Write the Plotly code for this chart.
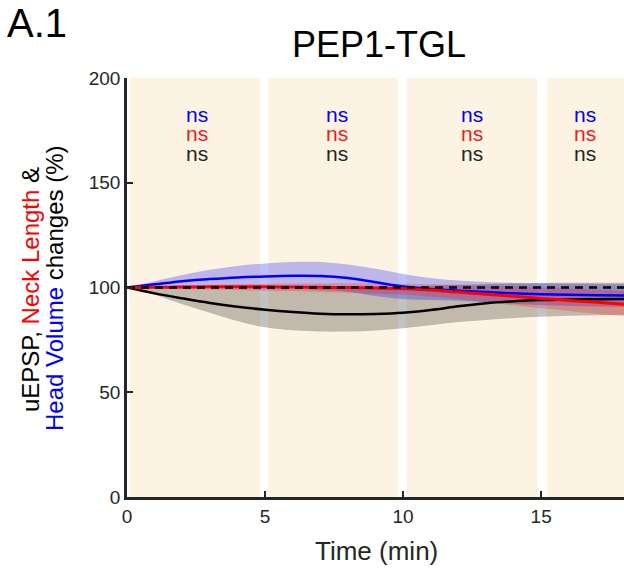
import plotly.graph_objects as go

# ---------------- data ----------------
time_min = [0, 1, 2, 3, 4, 5, 6, 7, 8, 9, 10, 11, 12, 13, 14, 15, 16, 17, 18]

head_volume_mean = [100, 101.5, 103, 104, 104.8, 105.3, 105.6, 105.5, 104.5, 102.5, 100.5, 99.3, 98.5, 97.8, 97.2, 96.8, 96.5, 96.3, 96.2]
head_volume_upper = [100, 103, 106, 108.5, 110.3, 111.5, 112.2, 112.2, 111, 109, 106.5, 104.5, 103.3, 102.6, 102.2, 102, 101.8, 101.7, 101.6]
head_volume_lower = [100, 100, 100, 99.5, 99.3, 99.1, 99, 98.8, 98, 96, 94.5, 94, 93.7, 93, 92.2, 91.6, 91.2, 90.9, 90.8]

neck_length_mean = [100, 100.1, 100.2, 100.3, 100.3, 100.3, 100.2, 100.1, 100, 99.8, 99.4, 98.8, 97.8, 96.8, 95.8, 94.8, 93.8, 92.9, 92.0]
neck_length_upper = [100, 100.6, 101, 101.3, 101.5, 101.7, 101.8, 101.9, 102, 101.9, 101.8, 101.5, 101.2, 100.8, 100.5, 100, 99.5, 98.9, 98.3]
neck_length_lower = [100, 99.6, 99.2, 99, 98.8, 98.5, 98.3, 97.9, 97.5, 97, 96.5, 95.6, 94.5, 93, 91.5, 90.1, 88.8, 87.5, 86.3]

uepsp_mean = [100, 97.2, 94.8, 92.6, 90.8, 89.4, 88.3, 87.5, 87.2, 87.4, 88, 89.3, 91, 92.5, 93.4, 94, 94.3, 94.4, 94.5]
uepsp_upper = [100, 100, 99.8, 99.5, 99.3, 99.2, 99.2, 99.3, 99.5, 99.8, 100.2, 100.8, 101.3, 101.7, 102, 102.2, 102.3, 102.3, 102.3]
uepsp_lower = [100, 96.5, 92, 88, 84, 81, 79.6, 79, 79, 79.5, 80.6, 82, 83.5, 84.5, 85.4, 86, 86.5, 86.8, 87]

baseline = [100] * len(time_min)

# stimulation epochs (shaded backgrounds)
epoch_start = [0.1, 5.12, 10.12, 15.2]
epoch_end = [4.82, 9.82, 14.85, 18.5]

# significance labels
ns_x = [2.55, 7.6, 12.5, 16.6]
ns_rows = [("ns", "#0000ff", 182.5), ("ns", "#ee1c25", 173.3), ("ns", "#262626", 163.8)]

x_ticks = [0, 5, 10, 15]
y_ticks = [0, 50, 100, 150, 200]

FONT = "Liberation Sans, Arial, sans-serif"

fig = go.Figure()


def band(lower, upper, rgba):
    fig.add_trace(go.Scatter(x=time_min, y=lower, mode="lines",
                             line=dict(width=0, shape="spline", smoothing=1),
                             hoverinfo="skip", showlegend=False))
    fig.add_trace(go.Scatter(x=time_min, y=upper, mode="lines", fill="tonexty",
                             fillcolor=rgba,
                             line=dict(width=0, shape="spline", smoothing=1),
                             hoverinfo="skip", showlegend=False))


band(uepsp_lower, uepsp_upper, "rgba(0,0,0,0.24)")
band(head_volume_lower, head_volume_upper, "rgba(0,0,255,0.25)")
band(neck_length_lower, neck_length_upper, "rgba(255,0,0,0.22)")

fig.add_trace(go.Scatter(x=time_min, y=uepsp_mean, mode="lines",
                         line=dict(color="#000000", width=2.5, shape="spline", smoothing=1),
                         showlegend=False))
fig.add_trace(go.Scatter(x=time_min, y=head_volume_mean, mode="lines",
                         line=dict(color="#0000ff", width=2.5, shape="spline", smoothing=1),
                         showlegend=False))
fig.add_trace(go.Scatter(x=time_min, y=neck_length_mean, mode="lines",
                         line=dict(color="#ff0000", width=3, shape="spline", smoothing=1),
                         showlegend=False))
fig.add_trace(go.Scatter(x=time_min, y=baseline, mode="lines",
                         line=dict(color="#000000", width=2.5, dash="8px,6px"),
                         showlegend=False))

shapes = []
for s, e in zip(epoch_start, epoch_end):
    shapes.append(dict(type="rect", xref="x", yref="y", x0=s, x1=e, y0=0, y1=200,
                       fillcolor="#fdf3e2", line=dict(width=0), layer="below"))

annotations = []
for xv in ns_x:
    for txt, col, yv in ns_rows:
        annotations.append(dict(x=xv, y=yv, xref="x", yref="y", text=txt,
                                showarrow=False, font=dict(family=FONT, size=21, color=col),
                                xanchor="center", yanchor="middle"))

W, H = 624, 573
L, R, T, B = 127, 0, 78, 76
pw, ph = W - L - R, H - T - B


def px_x(p):
    return (p - L) / pw


def px_y(p):
    return (H - B - p) / ph


annotations += [
    dict(x=px_x(379), y=px_y(44), xref="paper", yref="paper", text="PEP1-TGL",
         showarrow=False, font=dict(family=FONT, size=36, color="#000000"),
         xanchor="center", yanchor="middle"),
    dict(x=px_x(5), y=px_y(23), xref="paper", yref="paper", text="A.1",
         showarrow=False, font=dict(family=FONT, size=40, color="#000000"),
         xanchor="left", yanchor="middle"),
    dict(x=px_x(5), y=px_y(591), xref="paper", yref="paper", text="A.2",
         showarrow=False, font=dict(family=FONT, size=40, color="#000000"),
         xanchor="left", yanchor="middle"),
    dict(x=px_x(376), y=px_y(551), xref="paper", yref="paper", text="Time (min)",
         showarrow=False, font=dict(family=FONT, size=26, color="#262626"),
         xanchor="center", yanchor="middle"),
    dict(x=px_x(30), y=px_y(290), xref="paper", yref="paper", textangle=-90,
         text="uEPSP, <span style='color:#ff0000'>Neck Length</span> &amp;",
         showarrow=False, font=dict(family=FONT, size=24, color="#000000"),
         xanchor="center", yanchor="middle"),
    dict(x=px_x(54), y=px_y(288), xref="paper", yref="paper", textangle=-90,
         text="<span style='color:#0000ff'>Head Volume</span> changes (%)",
         showarrow=False, font=dict(family=FONT, size=24, color="#000000"),
         xanchor="center", yanchor="middle"),
]

fig.update_layout(
    width=W, height=H, autosize=False,
    margin=dict(l=L, r=R, t=T, b=B, pad=0),
    paper_bgcolor="#ffffff", plot_bgcolor="#ffffff",
    shapes=shapes, annotations=annotations, showlegend=False,
    xaxis=dict(range=[0, 18], tickvals=x_ticks, ticks="inside", ticklen=6, tickwidth=2,
               tickcolor="#262626", showline=True, linecolor="#262626", linewidth=2.5,
               showgrid=False, zeroline=False,
               tickfont=dict(family=FONT, size=19, color="#262626")),
    yaxis=dict(range=[0, 200], tickvals=y_ticks, ticks="inside", ticklen=6, tickwidth=2,
               tickcolor="#262626", showline=True, linecolor="#262626", linewidth=2.5,
               showgrid=False, zeroline=False,
               tickfont=dict(family=FONT, size=19, color="#262626")),
)

fig.write_html("out.html")
